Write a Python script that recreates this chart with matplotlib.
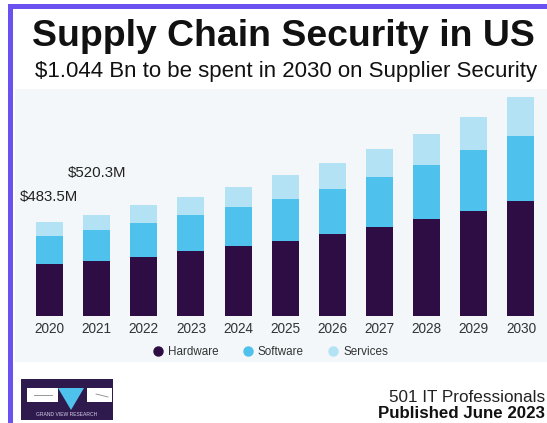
import matplotlib
matplotlib.use("Agg")
import matplotlib.pyplot as plt
from matplotlib.patches import Rectangle, Polygon
from matplotlib.lines import Line2D
import numpy as np

plt.rcParams['font.family'] = ['Liberation Sans', 'DejaVu Sans']

years = ['2020', '2021', '2022', '2023', '2024', '2025', '2026', '2027', '2028', '2029', '2030']
hardware = [268, 280, 304, 333, 358, 383, 419, 457, 496, 539, 592]
software = [144, 160, 174, 183, 202, 217, 232, 256, 277, 311, 333]
services = [72, 80, 89, 97, 104, 125, 132, 142, 159, 169, 200]
series_names = ['Hardware', 'Software', 'Services']
colors = ['#2e0d45', '#4ec1ec', '#b4e2f5']
annot_labels = ['$483.5M', '$520.3M']

W, H = 547, 423
fig = plt.figure(figsize=(W / 100, H / 100), dpi=100)
fig.patch.set_facecolor('white')

def fx(px):
    return px / W

def fy(py):
    return 1 - py / H

# plot background panel
fig.patches.append(Rectangle((fx(15), fy(362)), fx(532), (362 - 89) / H,
                             transform=fig.transFigure, facecolor='#f3f7fa',
                             edgecolor='none', zorder=-10))
# purple frame
fig.patches.append(Rectangle((fx(8), fy(423)), fx(5), 1 - 4 / H,
                             transform=fig.transFigure, facecolor='#6a52f0',
                             edgecolor='none', zorder=-5))
fig.patches.append(Rectangle((fx(8), fy(9)), 1 - fx(8), 5 / H,
                             transform=fig.transFigure, facecolor='#6a52f0',
                             edgecolor='none', zorder=-5))

# main axes: baseline at px 316, top at 89
ax = fig.add_axes([fx(15), fy(316), fx(532), (316 - 89) / H])
ax.set_facecolor('none')
ax.set_zorder(2)
x = np.arange(len(years))
per_unit = 47.15
xmin = -(49.5 - 15) / per_unit
ax.set_xlim(xmin, xmin + 532 / per_unit)
ax.set_ylim(0, 227 * 5.13)
bw = 27 / per_unit
hw = np.array(hardware)
sw = np.array(software)
sv = np.array(services)
ax.bar(x, hw, bw, color=colors[0])
ax.bar(x, sw, bw, bottom=hw, color=colors[1])
ax.bar(x, sv, bw, bottom=hw + sw, color=colors[2])
for s in ax.spines.values():
    s.set_visible(False)
ax.set_yticks([])
ax.set_xticks(x)
ax.set_xticklabels(years, fontsize=9.8, color='#333333')
ax.tick_params(axis='x', length=0, pad=4.5)

# value annotations
fig.text(fx(20), fy(197), annot_labels[0], fontsize=10.8, color='#222222',
         ha='left', va='center')
fig.text(fx(68), fy(173), annot_labels[1], fontsize=10.8, color='#222222',
         ha='left', va='center')

# titles
fig.text(fx(283.5), fy(36), 'Supply Chain Security in US', fontsize=26.9,
         fontweight='bold', color='#111111', ha='center', va='center')
fig.text(fx(286.5), fy(71), '$1.044 Bn to be spent in 2030 on Supplier Security',
         fontsize=16.0, color='#111111', ha='center', va='center')

# legend
handles = [Line2D([0], [0], marker='o', linestyle='none', markersize=6.5,
                  markerfacecolor=c, markeredgecolor=c) for c in colors]
fig.legend(handles, series_names, loc='center', bbox_to_anchor=(fx(270), fy(352)),
           ncol=3, frameon=False, fontsize=8.4, handletextpad=0.36,
           columnspacing=2.0, labelcolor='#333333', handlelength=1.0)

# footer text
fig.text(fx(545), fy(397), '501 IT Professionals', fontsize=12.3, color='#222222',
         ha='right', va='center')
fig.text(fx(545), fy(413), 'Published June 2023', fontsize=12.2, fontweight='bold',
         color='#111111', ha='right', va='center')

# logo
lg = fig.add_axes([fx(21), fy(420), fx(92), 41 / H])
lg.set_xlim(21, 113)
lg.set_ylim(420, 379)
lg.axis('off')
lg.add_patch(Rectangle((21, 379), 92, 41, facecolor='#2e1a4c', edgecolor='none'))
lg.add_patch(Rectangle((27, 388), 31, 14, facecolor='white', edgecolor='none'))
lg.add_patch(Rectangle((87, 388), 25, 14, facecolor='white', edgecolor='none'))
lg.add_patch(Polygon([(58, 388), (84, 388), (71, 410)], closed=True,
                     facecolor='#4ec1ec', edgecolor='none'))
lg.plot([34, 52], [395, 395], color='#888888', lw=0.6)
lg.plot([96, 108], [394, 397], color='#888888', lw=0.6)
lg.text(67, 414.5, 'GRAND VIEW RESEARCH', fontsize=3.6, color='#d8d0ee',
        ha='center', va='center')

fig.savefig('out.png', dpi=100)
